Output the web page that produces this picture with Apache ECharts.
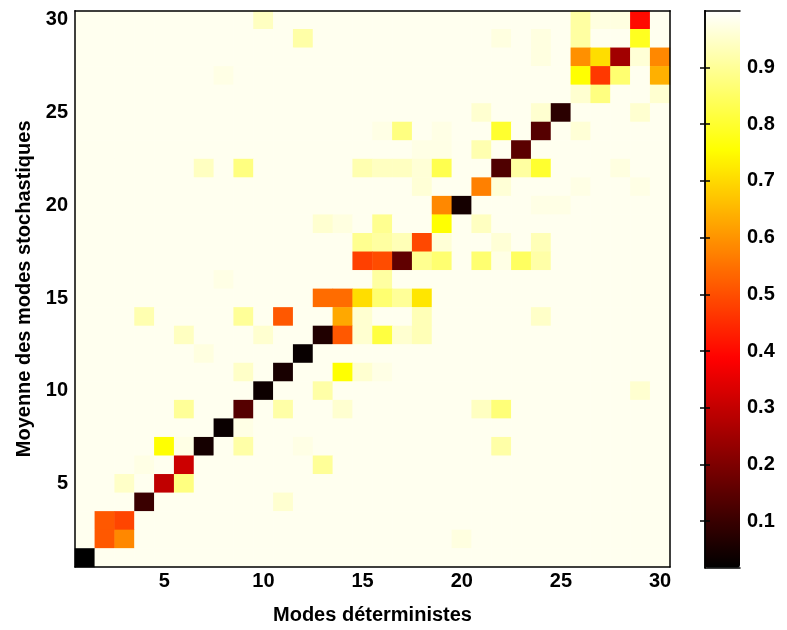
<!DOCTYPE html>
<html><head><meta charset="utf-8">
<script src="https://cdn.jsdelivr.net/npm/echarts@6/dist/echarts.min.js"></script>
<style>html,body{margin:0;padding:0;background:#fff}#c{width:787px;height:630px}</style>
</head><body><div id="c"></div>
<script>
// Categories (modes 1..30)
const xCategories = ['1','2','3','4','5','6','7','8','9','10','11','12','13','14','15','16','17','18','19','20','21','22','23','24','25','26','27','28','29','30'];
const yCategories = ['1','2','3','4','5','6','7','8','9','10','11','12','13','14','15','16','17','18','19','20','21','22','23','24','25','26','27','28','29','30'];
const colorbarTicks = [0.1,0.2,0.3,0.4,0.5,0.6,0.7,0.8,0.9];
const valueMin = 0.018;
const valueMax = 1.0;

// Matrix rows, y = 30 (top) down to y = 1 (bottom); each row lists x = 1..30
const row30 = [.985,.985,.985,.985,.985,.985,.985,.985,.985,.94, .985,.985,.985,.985,.985,.985,.985,.985,.985,.985, .985,.985,.985,.985,.985,.91,.97,.97,.40,.985];
const row29 = [.985,.985,.985,.985,.985,.985,.985,.985,.985,.985, .985,.915,.985,.985,.985,.985,.985,.985,.985,.985, .985,.97,.985,.97,.985,.91,.985,.985,.785,.985];
const row28 = [.985,.985,.985,.985,.985,.985,.985,.985,.985,.985, .985,.985,.985,.985,.985,.985,.985,.985,.985,.985, .985,.985,.985,.97,.985,.594,.705,.25,.96,.583];
const row27 = [.985,.985,.985,.985,.985,.985,.985,.975,.985,.985, .985,.985,.985,.985,.985,.985,.985,.985,.985,.985, .985,.985,.985,.985,.985,.755,.467,.862,.985,.64];
const row26 = [.985,.985,.985,.985,.985,.985,.985,.985,.985,.985, .985,.985,.985,.985,.985,.985,.985,.985,.985,.985, .985,.985,.985,.985,.985,.955,.877,.985,.985,.955];
const row25 = [.985,.985,.985,.985,.985,.985,.985,.985,.985,.985, .985,.985,.985,.985,.985,.985,.985,.985,.985,.985, .955,.985,.985,.955,.079,.985,.985,.985,.955,.985];
const row24 = [.985,.985,.985,.985,.985,.985,.985,.985,.985,.985, .985,.985,.985,.985,.985,.975,.877,.985,.975,.985, .985,.80,.985,.141,.985,.96,.985,.985,.985,.985];
const row23 = [.985,.985,.985,.985,.985,.985,.985,.985,.985,.985, .985,.985,.985,.985,.985,.985,.985,.975,.975,.985, .924,.985,.148,.985,.985,.985,.985,.985,.985,.985];
const row22 = [.985,.985,.985,.985,.985,.985,.94,.985,.877,.985, .985,.985,.985,.985,.924,.94,.94,.96,.83,.985, .985,.132,.909,.80,.985,.985,.985,.97,.985,.985];
const row21 = [.985,.985,.985,.985,.985,.985,.985,.985,.985,.985, .985,.985,.985,.985,.985,.985,.985,.96,.985,.985, .571,.96,.985,.985,.985,.975,.985,.985,.975,.985];
const row20 = [.985,.985,.985,.985,.985,.985,.985,.985,.985,.985, .985,.985,.985,.985,.985,.985,.985,.985,.583,.048, .985,.985,.985,.975,.975,.985,.985,.985,.985,.985];
const row19 = [.985,.985,.985,.985,.985,.985,.985,.985,.985,.985, .985,.985,.955,.97,.985,.893,.985,.985,.755,.985, .94,.985,.985,.985,.985,.985,.985,.985,.985,.985];
const row18 = [.985,.985,.985,.985,.985,.985,.985,.985,.985,.985, .985,.985,.985,.985,.893,.909,.93,.49,.96,.985, .985,.96,.985,.93,.985,.985,.985,.985,.985,.985];
const row17 = [.985,.985,.985,.985,.985,.985,.985,.985,.985,.985, .985,.985,.985,.985,.479,.496,.156,.893,.862,.985, .862,.975,.847,.915,.985,.985,.985,.985,.985,.985];
const row16 = [.985,.985,.985,.985,.985,.985,.985,.975,.985,.985, .985,.985,.985,.985,.985,.909,.985,.985,.985,.985, .985,.985,.985,.985,.985,.985,.985,.985,.985,.985];
const row15 = [.985,.985,.985,.985,.985,.985,.985,.985,.985,.985, .985,.985,.542,.542,.705,.862,.90,.718,.985,.985, .985,.985,.985,.985,.985,.985,.985,.985,.985,.985];
const row14 = [.985,.985,.985,.924,.985,.985,.985,.985,.90,.985, .513,.985,.985,.629,.955,.985,.985,.93,.985,.985, .985,.985,.985,.947,.985,.985,.985,.985,.985,.985];
const row13 = [.985,.985,.985,.985,.985,.94,.985,.985,.985,.955, .985,.985,.064,.513,.955,.816,.955,.93,.985,.985, .985,.985,.985,.985,.985,.985,.985,.985,.985,.985];
const row12 = [.985,.985,.985,.985,.985,.985,.97,.985,.985,.985, .985,.029,.985,.985,.985,.985,.985,.985,.985,.985, .985,.985,.985,.985,.985,.985,.985,.985,.985,.985];
const row11 = [.985,.985,.985,.985,.985,.985,.985,.985,.947,.985, .053,.985,.985,.755,.955,.975,.985,.985,.985,.985, .985,.985,.985,.985,.985,.985,.985,.985,.985,.985];
const row10 = [.985,.985,.985,.985,.985,.985,.985,.985,.985,.037, .985,.985,.915,.985,.985,.985,.985,.985,.985,.985, .985,.985,.985,.985,.985,.985,.985,.985,.955,.985];
const row9  = [.985,.985,.985,.985,.985,.90,.985,.985,.141,.985, .915,.985,.985,.955,.985,.985,.985,.985,.985,.985, .94,.87,.985,.985,.985,.985,.985,.985,.985,.985];
const row8  = [.985,.985,.985,.985,.985,.985,.985,.033,.975,.985, .985,.985,.985,.985,.985,.985,.985,.985,.985,.985, .985,.985,.985,.985,.985,.985,.985,.985,.985,.985];
const row7  = [.985,.985,.985,.985,.755,.975,.048,.985,.915,.985, .985,.975,.985,.985,.985,.985,.985,.985,.985,.985, .985,.915,.985,.985,.985,.985,.985,.985,.985,.985];
const row6  = [.985,.985,.985,.975,.985,.313,.985,.985,.985,.985, .985,.985,.90,.985,.985,.985,.985,.985,.985,.985, .985,.985,.985,.985,.985,.985,.985,.985,.985,.985];
const row5  = [.985,.985,.947,.985,.295,.877,.985,.985,.985,.985, .985,.985,.985,.985,.985,.985,.985,.985,.985,.985, .985,.985,.985,.985,.985,.985,.985,.985,.985,.985];
const row4  = [.985,.985,.985,.102,.985,.985,.985,.985,.985,.985, .955,.985,.985,.985,.985,.985,.985,.985,.985,.985, .985,.985,.985,.985,.985,.985,.985,.985,.985,.985];
const row3  = [.985,.513,.486,.985,.985,.985,.985,.985,.985,.985, .985,.985,.985,.985,.985,.985,.985,.985,.985,.985, .985,.985,.985,.985,.985,.985,.985,.985,.985,.985];
const row2  = [.985,.513,.583,.985,.985,.985,.985,.985,.985,.985, .985,.985,.985,.985,.985,.985,.985,.985,.985,.97, .985,.985,.985,.985,.985,.985,.985,.985,.985,.985];
const row1  = [.018,.985,.985,.985,.985,.985,.985,.985,.985,.985, .985,.985,.985,.985,.985,.985,.985,.985,.985,.985, .985,.985,.985,.985,.985,.985,.985,.985,.985,.985];

const rowsTopToBottom = [row30,row29,row28,row27,row26,row25,row24,row23,row22,row21,row20,row19,row18,row17,row16,row15,row14,row13,row12,row11,row10,row9,row8,row7,row6,row5,row4,row3,row2,row1];

const heatData = [];
rowsTopToBottom.forEach((row, i) => {
  const yi = yCategories.length - 1 - i;
  row.forEach((v, xi) => heatData.push([xi, yi, v]));
});

const FONT = "'Liberation Sans', Arial, Helvetica, sans-serif";
const txt = {color:'#000', fontSize:20, fontWeight:'bold', fontFamily:FONT};
const every5 = (idx) => (idx + 1) % 5 === 0;
const lineS = {color:'#000', width:1.5};

const chart = echarts.init(document.getElementById('c'), null, {renderer:'canvas'});
chart.setOption({
  animation:false,
  backgroundColor:'#fff',
  grid:[
    {left:75, top:10.7, width:595, height:557, containLabel:false},
    {left:705, top:10.7, width:35, height:557, containLabel:false}
  ],
  xAxis:[
    {type:'category', data:xCategories, gridIndex:0, position:'bottom', z:10,
     axisLine:{lineStyle:lineS}, splitLine:{show:false},
     axisTick:{inside:true, alignWithLabel:true, interval:every5, length:5, lineStyle:{color:'#000', width:1.5}},
     axisLabel:Object.assign({interval:every5, margin:4}, txt),
     name:'Modes déterministes', nameLocation:'middle', nameGap:38, nameTextStyle:txt},
    {type:'category', data:xCategories, gridIndex:0, position:'top', z:10,
     axisLine:{lineStyle:lineS}, splitLine:{show:false},
     axisTick:{inside:true, alignWithLabel:true, interval:every5, length:5, lineStyle:{color:'#000', width:1.5}},
     axisLabel:{show:false}},
    {type:'value', gridIndex:1, position:'bottom', min:0, max:1, z:10,
     axisLine:{lineStyle:lineS}, axisTick:{show:false}, axisLabel:{show:false}, splitLine:{show:false}},
    {type:'value', gridIndex:1, position:'top', min:0, max:1, z:10,
     axisLine:{lineStyle:lineS}, axisTick:{show:false}, axisLabel:{show:false}, splitLine:{show:false}}
  ],
  yAxis:[
    {type:'category', data:yCategories, gridIndex:0, position:'left', z:10,
     axisLine:{lineStyle:lineS}, splitLine:{show:false},
     axisTick:{inside:true, alignWithLabel:true, interval:every5, length:5, lineStyle:{color:'#000', width:1.5}},
     axisLabel:Object.assign({interval:every5, margin:7}, txt),
     name:'Moyenne des modes stochastiques', nameLocation:'middle', nameGap:39, nameRotate:90, nameTextStyle:txt},
    {type:'category', data:yCategories, gridIndex:0, position:'right', z:10,
     axisLine:{lineStyle:lineS}, splitLine:{show:false},
     axisTick:{inside:true, alignWithLabel:true, interval:every5, length:5, lineStyle:{color:'#000', width:1.5}},
     axisLabel:{show:false}},
    {type:'value', gridIndex:1, position:'left', min:valueMin, max:valueMax, z:10,
     axisLine:{lineStyle:lineS}, splitLine:{show:false},
     axisTick:{inside:true, length:5, customValues:colorbarTicks, lineStyle:{color:'#000', width:1.5}},
     axisLabel:{show:false}},
    {type:'value', gridIndex:1, position:'right', min:valueMin, max:valueMax, z:10,
     axisLine:{lineStyle:lineS}, splitLine:{show:false},
     axisTick:{inside:true, length:5, customValues:colorbarTicks, lineStyle:{color:'#000', width:1.5}},
     axisLabel:Object.assign({customValues:colorbarTicks, margin:7}, txt)}
  ],
  visualMap:{
    type:'continuous', min:valueMin, max:valueMax, seriesIndex:0, show:true,
    calculable:false, realtime:false, orient:'vertical',
    left:705, top:10.7, itemWidth:35, itemHeight:557, padding:0, text:null,
    inRange:{color:['#000000','#550000','#aa0000','#ff0000','#ff5500','#ffaa00','#ffff00','#ffff80','#ffffff']}
  },
  series:[{
    type:'heatmap', xAxisIndex:0, yAxisIndex:0, data:heatData,
    itemStyle:{borderWidth:0}, emphasis:{disabled:true}, progressive:0
  }]
});
</script></body></html>
